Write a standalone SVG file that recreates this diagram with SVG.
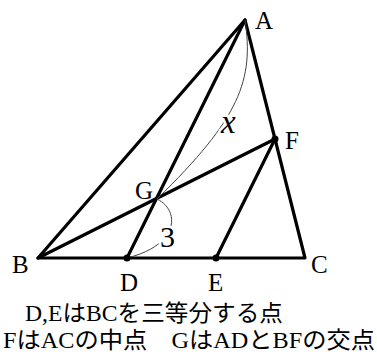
<svg xmlns="http://www.w3.org/2000/svg" width="377" height="362" viewBox="0 0 377 362">
<style>
.edge{stroke:#000;stroke-width:3.2;fill:none;stroke-linecap:round;stroke-linejoin:round}
.arc{stroke:#444;stroke-width:1;fill:none}
.lbl{font-family:"Liberation Serif","Times New Roman",serif;font-size:25px;fill:#000}
.mark{font-family:"Liberation Serif","Times New Roman",serif;fill:#000;stroke:#fff;stroke-width:5;paint-order:stroke}
.note{font-family:"Liberation Serif","Noto Sans CJK JP",serif;font-size:23px;fill:#000}
.dot{fill:#000}
</style>
<rect width="377" height="362" fill="#fff"/>
<g id="connectors">
<path class="edge" d="M38,258 L245,20 L305,258 Z"/>
<path class="edge" d="M245,20 L127,258"/>
<path class="edge" d="M38,258 L275,139"/>
<path class="edge" d="M216,258 L275,139"/>
<path class="arc" d="M245,20 C254,80 240,118 157,199"/>
<path class="arc" d="M157,199 C180,210 180,245 127,258"/>
</g>
<g id="A"><text class="lbl" x="255" y="29">A</text></g>
<g id="B"><text class="lbl" x="12" y="273">B</text></g>
<g id="C"><text class="lbl" x="311" y="273">C</text></g>
<g id="D"><circle class="dot" cx="127" cy="258" r="3.5"/><text class="lbl" x="120" y="291">D</text></g>
<g id="E"><circle class="dot" cx="216" cy="258" r="3.5"/><text class="lbl" x="208" y="291">E</text></g>
<g id="F"><circle class="dot" cx="275" cy="139" r="3.5"/><text class="lbl" x="285" y="149">F</text></g>
<g id="G"><text class="lbl" x="135" y="199">G</text></g>
<g id="labels">
<text class="mark" x="221" y="133" font-size="33" font-style="italic">x</text>
<text class="mark" x="160" y="247" font-size="30">3</text>
</g>
<g id="notes">
<text class="note" x="25" y="321" textLength="258" lengthAdjust="spacingAndGlyphs">D,EはBCを三等分する点</text>
<text class="note" x="3" y="348" textLength="372" lengthAdjust="spacingAndGlyphs">FはACの中点　GはADとBFの交点</text>
</g>
</svg>
